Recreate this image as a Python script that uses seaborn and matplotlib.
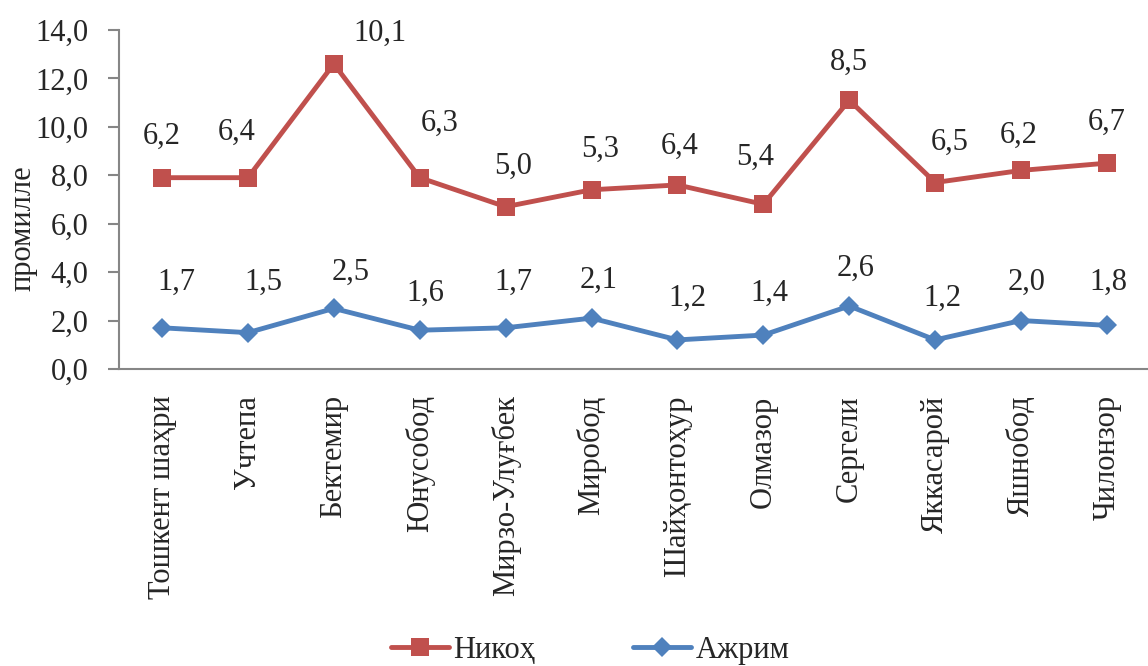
import numpy as np
import pandas as pd
import matplotlib
matplotlib.use('Agg')
import matplotlib.pyplot as plt
import seaborn as sns
from matplotlib.lines import Line2D

districts = ['Тошкент шаҳри', 'Учтепа', 'Бектемир', 'Юнусобод', 'Мирзо-Улуғбек',
             'Миробод', 'Шайҳонтоҳур', 'Олмазор', 'Сергели',
             'Яккасарой', 'Яшнобод', 'Чилонзор']
nikoh = [6.2, 6.4, 10.1, 6.3, 5.0, 5.3, 6.4, 5.4, 8.5, 6.5, 6.2, 6.7]
ajrim = [1.7, 1.5, 2.5, 1.6, 1.7, 2.1, 1.2, 1.4, 2.6, 1.2, 2.0, 1.8]

# label offsets in pixels (manual placement like in the original)
nikoh_dx = [0, -11, 46, 20, 7, 9, 2, -8, 0, 15, -2, 0]
nikoh_dy = [41, 45, 31, 54, 40, 40, 39, 47, 38, 40, 35, 41]
ajrim_dx = [14, 15, 17, 6, 8, 7, 10, 6, 6, 7, 5, 1]
ajrim_dy = [45, 50, 36, 37, 45, 38, 42, 42, 38, 42, 38, 43]

RED = '#C0504D'
BLUE = '#4F81BD'
GRAY = '#868686'

sns.set_style('white')
FAM = 'Liberation Serif'
plt.rcParams['font.family'] = 'serif'
plt.rcParams['font.serif'] = [FAM, 'DejaVu Serif']
FS = 22

# stacked line chart: red series sits on top of blue
df = pd.DataFrame({'pos': np.arange(len(districts)),
                   'ajrim': ajrim,
                   'nikoh': nikoh})
df['stack'] = df['ajrim'] + df['nikoh']

fig = plt.figure(figsize=(11.48, 6.66), dpi=100)
ax = fig.add_axes([0.1037, 0.446, 0.898, 0.509])

sns.lineplot(data=df, x='pos', y='ajrim', ax=ax, color=BLUE, lw=3.5, marker='D',
             markersize=10.5, markeredgewidth=0, sort=False)
sns.lineplot(data=df, x='pos', y='stack', ax=ax, color=RED, lw=3.5, marker='s',
             markersize=13.5, markeredgewidth=0, sort=False)

for i in range(len(districts)):
    ax.annotate(f'{nikoh[i]:.1f}'.replace('.', ','), (df['pos'][i], df['stack'][i]),
                xytext=(nikoh_dx[i], nikoh_dy[i]), textcoords='offset pixels',
                ha='center', va='center', fontsize=FS, family=FAM)
    ax.annotate(f'{ajrim[i]:.1f}'.replace('.', ','), (df['pos'][i], df['ajrim'][i]),
                xytext=(ajrim_dx[i], ajrim_dy[i]), textcoords='offset pixels',
                ha='center', va='center', fontsize=FS, family=FAM)

ax.set_xlim(-0.5, len(districts) - 0.5)
ax.set_ylim(0, 14)
yt = np.arange(0, 14.1, 2)
ax.set_yticks(yt)
ax.set_yticklabels([f'{v:.1f}'.replace('.', ',') for v in yt], fontsize=FS, family=FAM)
ax.set_xticks(df['pos'])
ax.set_xticklabels(districts, rotation=90, fontsize=FS, va='top', family=FAM)
ax.set_xticks(np.arange(-0.5, len(districts), 1), minor=True)
ax.tick_params(axis='x', which='major', length=0, pad=19)
ax.tick_params(axis='x', which='minor', length=8, width=1.5, color=GRAY, direction='out')
ax.tick_params(axis='y', length=8, width=1.5, color=GRAY, direction='out', pad=14, left=True)

ax.set_xlabel('')
ax.set_ylabel('промилле', fontsize=FS, family=FAM)
ax.yaxis.set_label_coords(-0.0795, 0.416)

for s in ['top', 'right']:
    ax.spines[s].set_visible(False)
for s in ['left', 'bottom']:
    ax.spines[s].set_color(GRAY)
    ax.spines[s].set_linewidth(1.5)

handles = [Line2D([], [], color=RED, lw=3.5, marker='s', markersize=13.5, markeredgewidth=0),
           Line2D([], [], color=BLUE, lw=3.5, marker='D', markersize=10.5, markeredgewidth=0)]
fig.legend(handles, ['Никоҳ', 'Ажрим'], loc='center', bbox_to_anchor=(0.514, 0.024),
           ncol=2, frameon=False, prop={'family': FAM, 'size': FS}, handlelength=1.9,
           handletextpad=0.15, columnspacing=3.2)

fig.savefig('out.png', dpi=100)
